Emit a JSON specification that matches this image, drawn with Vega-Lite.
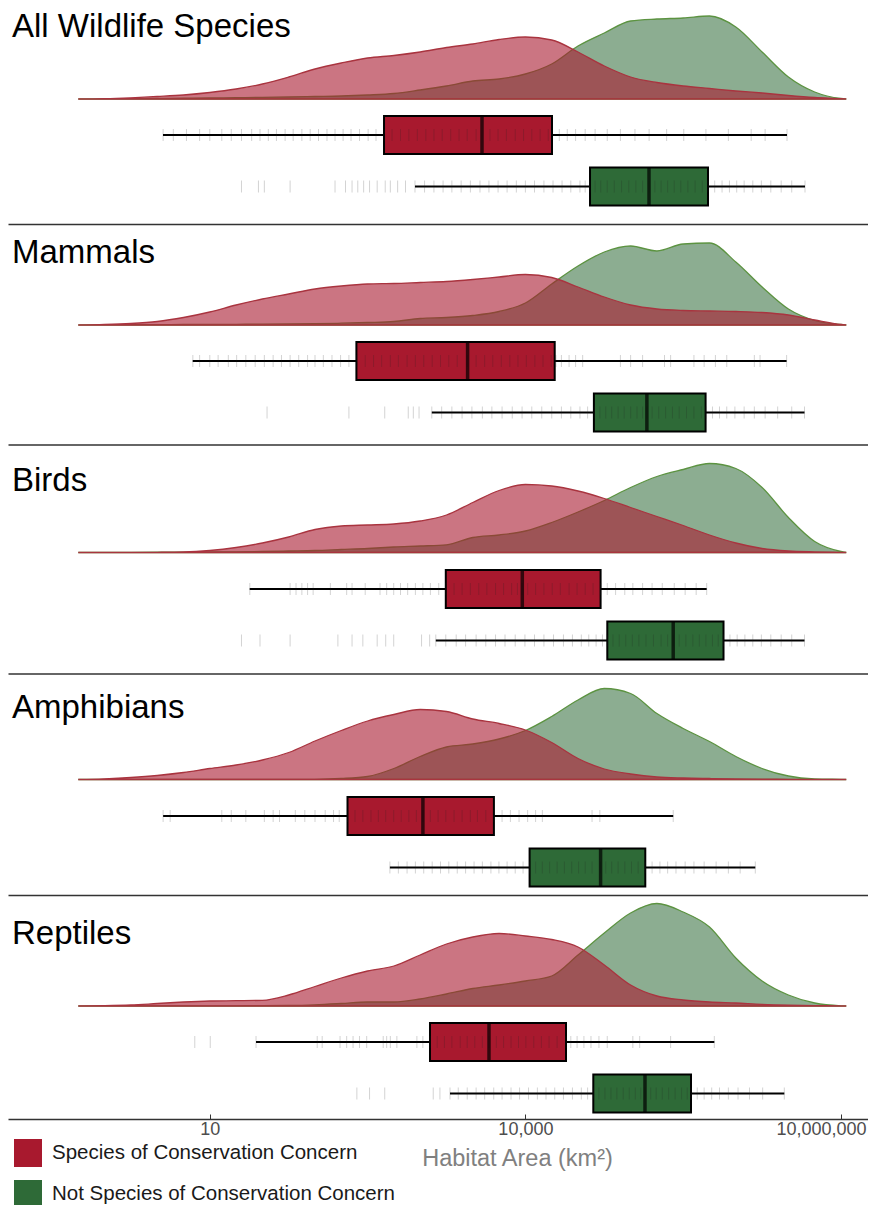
{
  "$schema": "https://vega.github.io/schema/vega-lite/v6.json",
  "padding": {"left": 8, "top": 0, "right": 0, "bottom": 0},
  "autosize": {"type": "pad"},
  "bounds": "flush",
  "spacing": 0,
  "background": "white",
  "config": {
    "font": "Liberation Sans",
    "view": {"stroke": null},
    "axis": {"grid": false},
    "legend": {"orient": "none", "legendX": 6, "legendY": 1139, "direction": "vertical", "symbolType": "square", "symbolSize": 784, "symbolStrokeWidth": 0, "symbolOpacity": 1, "labelFontSize": 20.5, "labelColor": "#1a1a1a", "labelOffset": 10, "rowPadding": 13, "padding": 0, "labelLimit": 500},
    "title": {"fontSize": 33, "fontWeight": "normal", "color": "#000000", "anchor": "start", "frame": "group", "baseline": "alphabetic", "dx": 4}
  },
  "datasets": {
    "stats": [
      {"taxon":"All","status":"SCC","lower":3.59,"q1":453,"median":3868,"q3":17900,"upper":3067000},
      {"taxon":"All","status":"Not SCC","lower":892,"q1":41130,"median":149600,"q3":544000,"upper":4547000},
      {"taxon":"Mammals","status":"SCC","lower":6.88,"q1":247.5,"median":2822,"q3":18990,"upper":3040000},
      {"taxon":"Mammals","status":"Not SCC","lower":1289,"q1":44780,"median":142800,"q3":516200,"upper":4498000},
      {"taxon":"Birds","status":"SCC","lower":23.95,"q1":1751,"median":9343,"q3":51850,"upper":528800},
      {"taxon":"Birds","status":"Not SCC","lower":1407,"q1":60050,"median":254100,"q3":764100,"upper":4498000},
      {"taxon":"Amphibians","status":"SCC","lower":3.6,"q1":203.7,"median":1061,"q3":5019,"upper":254100},
      {"taxon":"Amphibians","status":"Not SCC","lower":515.2,"q1":10960,"median":51850,"q3":137900,"upper":1532000},
      {"taxon":"Reptiles","status":"SCC","lower":27.5,"q1":1239,"median":4508,"q3":24320,"upper":624800},
      {"taxon":"Reptiles","status":"Not SCC","lower":1920,"q1":44200,"median":137000,"q3":375100,"upper":2891000}
    ],
    "density_all": [
      {"status":"SCC","area":0.562,"density":0},{"status":"SCC","area":1,"density":0.003},{"status":"SCC","area":1.778,"density":0.012},{"status":"SCC","area":3.162,"density":0.025},{"status":"SCC","area":5.623,"density":0.04},{"status":"SCC","area":10,"density":0.065},{"status":"SCC","area":17.78,"density":0.1},{"status":"SCC","area":31.62,"density":0.15},{"status":"SCC","area":56.23,"density":0.22},{"status":"SCC","area":100,"density":0.3},{"status":"SCC","area":177.8,"density":0.36},{"status":"SCC","area":316.2,"density":0.41},{"status":"SCC","area":562.3,"density":0.435},{"status":"SCC","area":1000,"density":0.47},{"status":"SCC","area":1778,"density":0.515},{"status":"SCC","area":3162,"density":0.55},{"status":"SCC","area":5623,"density":0.595},{"status":"SCC","area":10000,"density":0.62},{"status":"SCC","area":17783,"density":0.59},{"status":"SCC","area":31623,"density":0.47},{"status":"SCC","area":56234,"density":0.33},{"status":"SCC","area":100000,"density":0.22},{"status":"SCC","area":177828,"density":0.165},{"status":"SCC","area":316228,"density":0.13},{"status":"SCC","area":562341,"density":0.105},{"status":"SCC","area":1000000,"density":0.08},{"status":"SCC","area":1778279,"density":0.06},{"status":"SCC","area":3162278,"density":0.035},{"status":"SCC","area":5623413,"density":0.015},{"status":"SCC","area":10000000,"density":0.003},{"status":"SCC","area":11220185,"density":0},
      {"status":"Not SCC","area":0.562,"density":0},{"status":"Not SCC","area":1,"density":0.002},{"status":"Not SCC","area":1.778,"density":0.004},{"status":"Not SCC","area":3.162,"density":0.006},{"status":"Not SCC","area":5.623,"density":0.008},{"status":"Not SCC","area":10,"density":0.01},{"status":"Not SCC","area":17.78,"density":0.013},{"status":"Not SCC","area":31.62,"density":0.016},{"status":"Not SCC","area":56.23,"density":0.02},{"status":"Not SCC","area":100,"density":0.025},{"status":"Not SCC","area":177.8,"density":0.03},{"status":"Not SCC","area":316.2,"density":0.04},{"status":"Not SCC","area":562.3,"density":0.055},{"status":"Not SCC","area":1000,"density":0.09},{"status":"Not SCC","area":1778,"density":0.13},{"status":"Not SCC","area":3162,"density":0.18},{"status":"Not SCC","area":5623,"density":0.2},{"status":"Not SCC","area":10000,"density":0.25},{"status":"Not SCC","area":17783,"density":0.35},{"status":"Not SCC","area":31623,"density":0.53},{"status":"Not SCC","area":56234,"density":0.66},{"status":"Not SCC","area":100000,"density":0.78},{"status":"Not SCC","area":177828,"density":0.8},{"status":"Not SCC","area":316228,"density":0.81},{"status":"Not SCC","area":562341,"density":0.83},{"status":"Not SCC","area":1000000,"density":0.72},{"status":"Not SCC","area":1778279,"density":0.47},{"status":"Not SCC","area":3162278,"density":0.22},{"status":"Not SCC","area":5623413,"density":0.07},{"status":"Not SCC","area":10000000,"density":0.005},{"status":"Not SCC","area":11220185,"density":0}
    ],
    "density_mammals": [
      {"status":"SCC","area":0.562,"density":0},{"status":"SCC","area":1,"density":0.005},{"status":"SCC","area":1.778,"density":0.015},{"status":"SCC","area":3.162,"density":0.035},{"status":"SCC","area":5.623,"density":0.075},{"status":"SCC","area":10,"density":0.13},{"status":"SCC","area":17.78,"density":0.2},{"status":"SCC","area":31.62,"density":0.26},{"status":"SCC","area":56.23,"density":0.31},{"status":"SCC","area":100,"density":0.36},{"status":"SCC","area":177.8,"density":0.39},{"status":"SCC","area":316.2,"density":0.41},{"status":"SCC","area":562.3,"density":0.415},{"status":"SCC","area":1000,"density":0.425},{"status":"SCC","area":1778,"density":0.435},{"status":"SCC","area":3162,"density":0.455},{"status":"SCC","area":5623,"density":0.48},{"status":"SCC","area":10000,"density":0.505},{"status":"SCC","area":17783,"density":0.475},{"status":"SCC","area":31623,"density":0.38},{"status":"SCC","area":56234,"density":0.28},{"status":"SCC","area":100000,"density":0.2},{"status":"SCC","area":177828,"density":0.16},{"status":"SCC","area":316228,"density":0.145},{"status":"SCC","area":562341,"density":0.14},{"status":"SCC","area":1000000,"density":0.135},{"status":"SCC","area":1778279,"density":0.125},{"status":"SCC","area":3162278,"density":0.1},{"status":"SCC","area":5623413,"density":0.05},{"status":"SCC","area":10000000,"density":0.005},{"status":"SCC","area":11220185,"density":0},
      {"status":"Not SCC","area":0.562,"density":0},{"status":"Not SCC","area":1,"density":0.002},{"status":"Not SCC","area":1.778,"density":0.003},{"status":"Not SCC","area":3.162,"density":0.004},{"status":"Not SCC","area":5.623,"density":0.005},{"status":"Not SCC","area":10,"density":0.006},{"status":"Not SCC","area":17.78,"density":0.007},{"status":"Not SCC","area":31.62,"density":0.008},{"status":"Not SCC","area":56.23,"density":0.01},{"status":"Not SCC","area":100,"density":0.013},{"status":"Not SCC","area":177.8,"density":0.018},{"status":"Not SCC","area":316.2,"density":0.025},{"status":"Not SCC","area":562.3,"density":0.035},{"status":"Not SCC","area":1000,"density":0.065},{"status":"Not SCC","area":1778,"density":0.075},{"status":"Not SCC","area":3162,"density":0.095},{"status":"Not SCC","area":5623,"density":0.135},{"status":"Not SCC","area":10000,"density":0.22},{"status":"Not SCC","area":17783,"density":0.41},{"status":"Not SCC","area":31623,"density":0.59},{"status":"Not SCC","area":56234,"density":0.73},{"status":"Not SCC","area":100000,"density":0.79},{"status":"Not SCC","area":177828,"density":0.74},{"status":"Not SCC","area":316228,"density":0.81},{"status":"Not SCC","area":562341,"density":0.82},{"status":"Not SCC","area":1000000,"density":0.63},{"status":"Not SCC","area":1778279,"density":0.38},{"status":"Not SCC","area":3162278,"density":0.16},{"status":"Not SCC","area":5623413,"density":0.045},{"status":"Not SCC","area":10000000,"density":0.005},{"status":"Not SCC","area":11220185,"density":0}
    ],
    "density_birds": [
      {"status":"SCC","area":0.562,"density":0},{"status":"SCC","area":1,"density":0},{"status":"SCC","area":1.778,"density":0.001},{"status":"SCC","area":3.162,"density":0.002},{"status":"SCC","area":5.623,"density":0.005},{"status":"SCC","area":10,"density":0.02},{"status":"SCC","area":17.78,"density":0.05},{"status":"SCC","area":31.62,"density":0.095},{"status":"SCC","area":56.23,"density":0.155},{"status":"SCC","area":100,"density":0.23},{"status":"SCC","area":177.8,"density":0.265},{"status":"SCC","area":316.2,"density":0.275},{"status":"SCC","area":562.3,"density":0.285},{"status":"SCC","area":1000,"density":0.315},{"status":"SCC","area":1778,"density":0.375},{"status":"SCC","area":3162,"density":0.5},{"status":"SCC","area":5623,"density":0.62},{"status":"SCC","area":10000,"density":0.68},{"status":"SCC","area":17783,"density":0.665},{"status":"SCC","area":31623,"density":0.615},{"status":"SCC","area":56234,"density":0.54},{"status":"SCC","area":100000,"density":0.45},{"status":"SCC","area":177828,"density":0.36},{"status":"SCC","area":316228,"density":0.27},{"status":"SCC","area":562341,"density":0.175},{"status":"SCC","area":1000000,"density":0.095},{"status":"SCC","area":1778279,"density":0.04},{"status":"SCC","area":3162278,"density":0.015},{"status":"SCC","area":5623413,"density":0.006},{"status":"SCC","area":10000000,"density":0.001},{"status":"SCC","area":11220185,"density":0},
      {"status":"Not SCC","area":0.562,"density":0},{"status":"Not SCC","area":1,"density":0.001},{"status":"Not SCC","area":1.778,"density":0.002},{"status":"Not SCC","area":3.162,"density":0.003},{"status":"Not SCC","area":5.623,"density":0.004},{"status":"Not SCC","area":10,"density":0.005},{"status":"Not SCC","area":17.78,"density":0.007},{"status":"Not SCC","area":31.62,"density":0.01},{"status":"Not SCC","area":56.23,"density":0.015},{"status":"Not SCC","area":100,"density":0.02},{"status":"Not SCC","area":177.8,"density":0.03},{"status":"Not SCC","area":316.2,"density":0.04},{"status":"Not SCC","area":562.3,"density":0.055},{"status":"Not SCC","area":1000,"density":0.065},{"status":"Not SCC","area":1778,"density":0.077},{"status":"Not SCC","area":3162,"density":0.15},{"status":"Not SCC","area":5623,"density":0.175},{"status":"Not SCC","area":10000,"density":0.215},{"status":"Not SCC","area":17783,"density":0.3},{"status":"Not SCC","area":31623,"density":0.405},{"status":"Not SCC","area":56234,"density":0.52},{"status":"Not SCC","area":100000,"density":0.65},{"status":"Not SCC","area":177828,"density":0.76},{"status":"Not SCC","area":316228,"density":0.83},{"status":"Not SCC","area":562341,"density":0.89},{"status":"Not SCC","area":1000000,"density":0.84},{"status":"Not SCC","area":1778279,"density":0.65},{"status":"Not SCC","area":3162278,"density":0.35},{"status":"Not SCC","area":5623413,"density":0.11},{"status":"Not SCC","area":10000000,"density":0.01},{"status":"Not SCC","area":11220185,"density":0}
    ],
    "density_amphibians": [
      {"status":"SCC","area":0.562,"density":0},{"status":"SCC","area":1,"density":0.007},{"status":"SCC","area":1.778,"density":0.02},{"status":"SCC","area":3.162,"density":0.04},{"status":"SCC","area":5.623,"density":0.07},{"status":"SCC","area":10,"density":0.11},{"status":"SCC","area":17.78,"density":0.145},{"status":"SCC","area":31.62,"density":0.195},{"status":"SCC","area":56.23,"density":0.27},{"status":"SCC","area":100,"density":0.385},{"status":"SCC","area":177.8,"density":0.49},{"status":"SCC","area":316.2,"density":0.585},{"status":"SCC","area":562.3,"density":0.65},{"status":"SCC","area":1000,"density":0.7},{"status":"SCC","area":1778,"density":0.68},{"status":"SCC","area":3162,"density":0.605},{"status":"SCC","area":5623,"density":0.56},{"status":"SCC","area":10000,"density":0.495},{"status":"SCC","area":17783,"density":0.37},{"status":"SCC","area":31623,"density":0.21},{"status":"SCC","area":56234,"density":0.105},{"status":"SCC","area":100000,"density":0.055},{"status":"SCC","area":177828,"density":0.025},{"status":"SCC","area":316228,"density":0.015},{"status":"SCC","area":562341,"density":0.01},{"status":"SCC","area":1000000,"density":0.006},{"status":"SCC","area":1778279,"density":0.004},{"status":"SCC","area":3162278,"density":0.002},{"status":"SCC","area":5623413,"density":0.001},{"status":"SCC","area":10000000,"density":0},{"status":"SCC","area":11220185,"density":0},
      {"status":"Not SCC","area":0.562,"density":0},{"status":"Not SCC","area":1,"density":0},{"status":"Not SCC","area":1.778,"density":0},{"status":"Not SCC","area":3.162,"density":0},{"status":"Not SCC","area":5.623,"density":0},{"status":"Not SCC","area":10,"density":0},{"status":"Not SCC","area":17.78,"density":0},{"status":"Not SCC","area":31.62,"density":0},{"status":"Not SCC","area":56.23,"density":0.001},{"status":"Not SCC","area":100,"density":0.002},{"status":"Not SCC","area":177.8,"density":0.01},{"status":"Not SCC","area":316.2,"density":0.03},{"status":"Not SCC","area":562.3,"density":0.11},{"status":"Not SCC","area":1000,"density":0.23},{"status":"Not SCC","area":1778,"density":0.325},{"status":"Not SCC","area":3162,"density":0.355},{"status":"Not SCC","area":5623,"density":0.405},{"status":"Not SCC","area":10000,"density":0.49},{"status":"Not SCC","area":17783,"density":0.63},{"status":"Not SCC","area":31623,"density":0.795},{"status":"Not SCC","area":56234,"density":0.91},{"status":"Not SCC","area":100000,"density":0.86},{"status":"Not SCC","area":177828,"density":0.66},{"status":"Not SCC","area":316228,"density":0.51},{"status":"Not SCC","area":562341,"density":0.38},{"status":"Not SCC","area":1000000,"density":0.23},{"status":"Not SCC","area":1778279,"density":0.11},{"status":"Not SCC","area":3162278,"density":0.035},{"status":"Not SCC","area":5623413,"density":0.006},{"status":"Not SCC","area":10000000,"density":0.001},{"status":"Not SCC","area":11220185,"density":0}
    ],
    "density_reptiles": [
      {"status":"SCC","area":0.562,"density":0},{"status":"SCC","area":1,"density":0.003},{"status":"SCC","area":1.778,"density":0.01},{"status":"SCC","area":3.162,"density":0.025},{"status":"SCC","area":5.623,"density":0.04},{"status":"SCC","area":10,"density":0.05},{"status":"SCC","area":17.78,"density":0.053},{"status":"SCC","area":31.62,"density":0.057},{"status":"SCC","area":56.23,"density":0.11},{"status":"SCC","area":100,"density":0.195},{"status":"SCC","area":177.8,"density":0.28},{"status":"SCC","area":316.2,"density":0.35},{"status":"SCC","area":562.3,"density":0.4},{"status":"SCC","area":1000,"density":0.51},{"status":"SCC","area":1778,"density":0.62},{"status":"SCC","area":3162,"density":0.69},{"status":"SCC","area":5623,"density":0.725},{"status":"SCC","area":10000,"density":0.7},{"status":"SCC","area":17783,"density":0.665},{"status":"SCC","area":31623,"density":0.59},{"status":"SCC","area":56234,"density":0.41},{"status":"SCC","area":100000,"density":0.21},{"status":"SCC","area":177828,"density":0.1},{"status":"SCC","area":316228,"density":0.06},{"status":"SCC","area":562341,"density":0.04},{"status":"SCC","area":1000000,"density":0.03},{"status":"SCC","area":1778279,"density":0.017},{"status":"SCC","area":3162278,"density":0.009},{"status":"SCC","area":5623413,"density":0.004},{"status":"SCC","area":10000000,"density":0.001},{"status":"SCC","area":11220185,"density":0},
      {"status":"Not SCC","area":0.562,"density":0},{"status":"Not SCC","area":1,"density":0},{"status":"Not SCC","area":1.778,"density":0},{"status":"Not SCC","area":3.162,"density":0},{"status":"Not SCC","area":5.623,"density":0},{"status":"Not SCC","area":10,"density":0.001},{"status":"Not SCC","area":17.78,"density":0.002},{"status":"Not SCC","area":31.62,"density":0.003},{"status":"Not SCC","area":56.23,"density":0.005},{"status":"Not SCC","area":100,"density":0.012},{"status":"Not SCC","area":177.8,"density":0.025},{"status":"Not SCC","area":316.2,"density":0.04},{"status":"Not SCC","area":562.3,"density":0.04},{"status":"Not SCC","area":1000,"density":0.07},{"status":"Not SCC","area":1778,"density":0.12},{"status":"Not SCC","area":3162,"density":0.175},{"status":"Not SCC","area":5623,"density":0.21},{"status":"Not SCC","area":10000,"density":0.25},{"status":"Not SCC","area":17783,"density":0.3},{"status":"Not SCC","area":31623,"density":0.51},{"status":"Not SCC","area":56234,"density":0.73},{"status":"Not SCC","area":100000,"density":0.93},{"status":"Not SCC","area":177828,"density":1.025},{"status":"Not SCC","area":316228,"density":0.94},{"status":"Not SCC","area":562341,"density":0.79},{"status":"Not SCC","area":1000000,"density":0.48},{"status":"Not SCC","area":1778279,"density":0.25},{"status":"Not SCC","area":3162278,"density":0.11},{"status":"Not SCC","area":5623413,"density":0.03},{"status":"Not SCC","area":10000000,"density":0.002},{"status":"Not SCC","area":11220185,"density":0}
    ],
    "rug_all": [
      {"status":"SCC","area":3.6},{"status":"SCC","area":4.5},{"status":"SCC","area":6},{"status":"SCC","area":8},{"status":"SCC","area":10},{"status":"SCC","area":13},{"status":"SCC","area":16},{"status":"SCC","area":20},{"status":"SCC","area":25},{"status":"SCC","area":30},{"status":"SCC","area":36},{"status":"SCC","area":43},{"status":"SCC","area":52},{"status":"SCC","area":62},{"status":"SCC","area":75},{"status":"SCC","area":90},{"status":"SCC","area":108},{"status":"SCC","area":130},{"status":"SCC","area":155},{"status":"SCC","area":185},{"status":"SCC","area":220},{"status":"SCC","area":265},{"status":"SCC","area":320},{"status":"SCC","area":380},{"status":"SCC","area":453},{"status":"SCC","area":540},{"status":"SCC","area":650},{"status":"SCC","area":780},{"status":"SCC","area":940},{"status":"SCC","area":1130},{"status":"SCC","area":1350},{"status":"SCC","area":1620},{"status":"SCC","area":1950},{"status":"SCC","area":2340},{"status":"SCC","area":2800},{"status":"SCC","area":3400},{"status":"SCC","area":4600},{"status":"SCC","area":5500},{"status":"SCC","area":6600},{"status":"SCC","area":8000},{"status":"SCC","area":9600},{"status":"SCC","area":11500},{"status":"SCC","area":13800},{"status":"SCC","area":16500},{"status":"SCC","area":21000},{"status":"SCC","area":25000},{"status":"SCC","area":30000},{"status":"SCC","area":37000},{"status":"SCC","area":46000},{"status":"SCC","area":60000},{"status":"SCC","area":80000},{"status":"SCC","area":110000},{"status":"SCC","area":150000},{"status":"SCC","area":220000},{"status":"SCC","area":320000},{"status":"SCC","area":520000},{"status":"SCC","area":850000},{"status":"SCC","area":1400000},{"status":"SCC","area":1900000},{"status":"SCC","area":3067000},
      {"status":"Not SCC","area":20},{"status":"Not SCC","area":29},{"status":"Not SCC","area":33},{"status":"Not SCC","area":58},{"status":"Not SCC","area":155},{"status":"Not SCC","area":195},{"status":"Not SCC","area":225},{"status":"Not SCC","area":255},{"status":"Not SCC","area":290},{"status":"Not SCC","area":330},{"status":"Not SCC","area":390},{"status":"Not SCC","area":465},{"status":"Not SCC","area":520},{"status":"Not SCC","area":610},{"status":"Not SCC","area":725},{"status":"Not SCC","area":892},{"status":"Not SCC","area":1100},{"status":"Not SCC","area":1350},{"status":"Not SCC","area":1650},{"status":"Not SCC","area":2000},{"status":"Not SCC","area":2450},{"status":"Not SCC","area":3000},{"status":"Not SCC","area":3700},{"status":"Not SCC","area":4500},{"status":"Not SCC","area":5500},{"status":"Not SCC","area":6700},{"status":"Not SCC","area":8200},{"status":"Not SCC","area":10000},{"status":"Not SCC","area":12200},{"status":"Not SCC","area":15000},{"status":"Not SCC","area":18300},{"status":"Not SCC","area":22300},{"status":"Not SCC","area":27000},{"status":"Not SCC","area":33000},{"status":"Not SCC","area":37000},{"status":"Not SCC","area":41000},{"status":"Not SCC","area":46000},{"status":"Not SCC","area":52000},{"status":"Not SCC","area":60000},{"status":"Not SCC","area":70000},{"status":"Not SCC","area":82000},{"status":"Not SCC","area":96000},{"status":"Not SCC","area":112000},{"status":"Not SCC","area":130000},{"status":"Not SCC","area":150000},{"status":"Not SCC","area":170000},{"status":"Not SCC","area":195000},{"status":"Not SCC","area":225000},{"status":"Not SCC","area":260000},{"status":"Not SCC","area":300000},{"status":"Not SCC","area":350000},{"status":"Not SCC","area":410000},{"status":"Not SCC","area":480000},{"status":"Not SCC","area":544000},{"status":"Not SCC","area":630000},{"status":"Not SCC","area":740000},{"status":"Not SCC","area":870000},{"status":"Not SCC","area":1020000},{"status":"Not SCC","area":1200000},{"status":"Not SCC","area":1450000},{"status":"Not SCC","area":1750000},{"status":"Not SCC","area":2150000},{"status":"Not SCC","area":2700000},{"status":"Not SCC","area":3400000},{"status":"Not SCC","area":4547000}
    ],
    "rug_mammals": [
      {"status":"SCC","area":6.9},{"status":"SCC","area":8},{"status":"SCC","area":10},{"status":"SCC","area":12},{"status":"SCC","area":15},{"status":"SCC","area":18},{"status":"SCC","area":22},{"status":"SCC","area":27},{"status":"SCC","area":33},{"status":"SCC","area":40},{"status":"SCC","area":48},{"status":"SCC","area":58},{"status":"SCC","area":70},{"status":"SCC","area":85},{"status":"SCC","area":100},{"status":"SCC","area":120},{"status":"SCC","area":145},{"status":"SCC","area":175},{"status":"SCC","area":210},{"status":"SCC","area":250},{"status":"SCC","area":300},{"status":"SCC","area":360},{"status":"SCC","area":430},{"status":"SCC","area":520},{"status":"SCC","area":620},{"status":"SCC","area":750},{"status":"SCC","area":900},{"status":"SCC","area":1080},{"status":"SCC","area":1300},{"status":"SCC","area":1560},{"status":"SCC","area":1870},{"status":"SCC","area":2250},{"status":"SCC","area":2800},{"status":"SCC","area":3400},{"status":"SCC","area":4100},{"status":"SCC","area":4900},{"status":"SCC","area":5900},{"status":"SCC","area":7100},{"status":"SCC","area":8500},{"status":"SCC","area":10200},{"status":"SCC","area":12300},{"status":"SCC","area":14700},{"status":"SCC","area":17600},{"status":"SCC","area":19500},{"status":"SCC","area":22000},{"status":"SCC","area":26000},{"status":"SCC","area":30000},{"status":"SCC","area":35000},{"status":"SCC","area":80000},{"status":"SCC","area":100000},{"status":"SCC","area":130000},{"status":"SCC","area":210000},{"status":"SCC","area":240000},{"status":"SCC","area":400000},{"status":"SCC","area":500000},{"status":"SCC","area":640000},{"status":"SCC","area":820000},{"status":"SCC","area":1500000},{"status":"SCC","area":1700000},{"status":"SCC","area":3040000},
      {"status":"Not SCC","area":35},{"status":"Not SCC","area":210},{"status":"Not SCC","area":460},{"status":"Not SCC","area":770},{"status":"Not SCC","area":860},{"status":"Not SCC","area":975},{"status":"Not SCC","area":1289},{"status":"Not SCC","area":1600},{"status":"Not SCC","area":2000},{"status":"Not SCC","area":2500},{"status":"Not SCC","area":3100},{"status":"Not SCC","area":3900},{"status":"Not SCC","area":4800},{"status":"Not SCC","area":6000},{"status":"Not SCC","area":7500},{"status":"Not SCC","area":9300},{"status":"Not SCC","area":11500},{"status":"Not SCC","area":14300},{"status":"Not SCC","area":17800},{"status":"Not SCC","area":22000},{"status":"Not SCC","area":27000},{"status":"Not SCC","area":33000},{"status":"Not SCC","area":39000},{"status":"Not SCC","area":45000},{"status":"Not SCC","area":51000},{"status":"Not SCC","area":58000},{"status":"Not SCC","area":66000},{"status":"Not SCC","area":76000},{"status":"Not SCC","area":87000},{"status":"Not SCC","area":100000},{"status":"Not SCC","area":115000},{"status":"Not SCC","area":130000},{"status":"Not SCC","area":143000},{"status":"Not SCC","area":160000},{"status":"Not SCC","area":185000},{"status":"Not SCC","area":215000},{"status":"Not SCC","area":250000},{"status":"Not SCC","area":290000},{"status":"Not SCC","area":340000},{"status":"Not SCC","area":400000},{"status":"Not SCC","area":470000},{"status":"Not SCC","area":520000},{"status":"Not SCC","area":600000},{"status":"Not SCC","area":700000},{"status":"Not SCC","area":820000},{"status":"Not SCC","area":980000},{"status":"Not SCC","area":1200000},{"status":"Not SCC","area":1500000},{"status":"Not SCC","area":1900000},{"status":"Not SCC","area":2500000},{"status":"Not SCC","area":3400000},{"status":"Not SCC","area":4498000}
    ],
    "rug_birds": [
      {"status":"SCC","area":24},{"status":"SCC","area":58},{"status":"SCC","area":66},{"status":"SCC","area":75},{"status":"SCC","area":85},{"status":"SCC","area":96},{"status":"SCC","area":140},{"status":"SCC","area":200},{"status":"SCC","area":225},{"status":"SCC","area":300},{"status":"SCC","area":415},{"status":"SCC","area":480},{"status":"SCC","area":560},{"status":"SCC","area":650},{"status":"SCC","area":760},{"status":"SCC","area":900},{"status":"SCC","area":1060},{"status":"SCC","area":1250},{"status":"SCC","area":1500},{"status":"SCC","area":1750},{"status":"SCC","area":2100},{"status":"SCC","area":2500},{"status":"SCC","area":3000},{"status":"SCC","area":3600},{"status":"SCC","area":4300},{"status":"SCC","area":5200},{"status":"SCC","area":6200},{"status":"SCC","area":7400},{"status":"SCC","area":8400},{"status":"SCC","area":9300},{"status":"SCC","area":10500},{"status":"SCC","area":12500},{"status":"SCC","area":15000},{"status":"SCC","area":18000},{"status":"SCC","area":21500},{"status":"SCC","area":26000},{"status":"SCC","area":31000},{"status":"SCC","area":37000},{"status":"SCC","area":44000},{"status":"SCC","area":52000},{"status":"SCC","area":60000},{"status":"SCC","area":72000},{"status":"SCC","area":88000},{"status":"SCC","area":105000},{"status":"SCC","area":130000},{"status":"SCC","area":160000},{"status":"SCC","area":200000},{"status":"SCC","area":260000},{"status":"SCC","area":330000},{"status":"SCC","area":420000},{"status":"SCC","area":528800},
      {"status":"Not SCC","area":20},{"status":"Not SCC","area":30},{"status":"Not SCC","area":58},{"status":"Not SCC","area":165},{"status":"Not SCC","area":225},{"status":"Not SCC","area":285},{"status":"Not SCC","area":390},{"status":"Not SCC","area":470},{"status":"Not SCC","area":560},{"status":"Not SCC","area":1030},{"status":"Not SCC","area":1230},{"status":"Not SCC","area":1407},{"status":"Not SCC","area":1750},{"status":"Not SCC","area":2200},{"status":"Not SCC","area":2700},{"status":"Not SCC","area":3400},{"status":"Not SCC","area":4200},{"status":"Not SCC","area":5200},{"status":"Not SCC","area":6400},{"status":"Not SCC","area":8000},{"status":"Not SCC","area":9900},{"status":"Not SCC","area":12200},{"status":"Not SCC","area":15000},{"status":"Not SCC","area":18500},{"status":"Not SCC","area":23000},{"status":"Not SCC","area":28000},{"status":"Not SCC","area":34000},{"status":"Not SCC","area":40000},{"status":"Not SCC","area":47000},{"status":"Not SCC","area":54000},{"status":"Not SCC","area":60000},{"status":"Not SCC","area":68000},{"status":"Not SCC","area":78000},{"status":"Not SCC","area":90000},{"status":"Not SCC","area":104000},{"status":"Not SCC","area":120000},{"status":"Not SCC","area":140000},{"status":"Not SCC","area":165000},{"status":"Not SCC","area":195000},{"status":"Not SCC","area":225000},{"status":"Not SCC","area":254000},{"status":"Not SCC","area":290000},{"status":"Not SCC","area":335000},{"status":"Not SCC","area":390000},{"status":"Not SCC","area":450000},{"status":"Not SCC","area":520000},{"status":"Not SCC","area":600000},{"status":"Not SCC","area":680000},{"status":"Not SCC","area":764000},{"status":"Not SCC","area":880000},{"status":"Not SCC","area":1030000},{"status":"Not SCC","area":1220000},{"status":"Not SCC","area":1450000},{"status":"Not SCC","area":1750000},{"status":"Not SCC","area":2150000},{"status":"Not SCC","area":2700000},{"status":"Not SCC","area":3400000},{"status":"Not SCC","area":4498000}
    ],
    "rug_amphibians": [
      {"status":"SCC","area":3.6},{"status":"SCC","area":4.2},{"status":"SCC","area":13},{"status":"SCC","area":16},{"status":"SCC","area":22},{"status":"SCC","area":33},{"status":"SCC","area":40},{"status":"SCC","area":46},{"status":"SCC","area":65},{"status":"SCC","area":80},{"status":"SCC","area":100},{"status":"SCC","area":125},{"status":"SCC","area":150},{"status":"SCC","area":170},{"status":"SCC","area":204},{"status":"SCC","area":240},{"status":"SCC","area":285},{"status":"SCC","area":340},{"status":"SCC","area":400},{"status":"SCC","area":470},{"status":"SCC","area":560},{"status":"SCC","area":660},{"status":"SCC","area":780},{"status":"SCC","area":920},{"status":"SCC","area":1061},{"status":"SCC","area":1250},{"status":"SCC","area":1480},{"status":"SCC","area":1750},{"status":"SCC","area":2100},{"status":"SCC","area":2500},{"status":"SCC","area":3000},{"status":"SCC","area":3500},{"status":"SCC","area":4200},{"status":"SCC","area":5019},{"status":"SCC","area":6000},{"status":"SCC","area":7200},{"status":"SCC","area":8700},{"status":"SCC","area":10500},{"status":"SCC","area":12500},{"status":"SCC","area":14500},{"status":"SCC","area":43000},{"status":"SCC","area":51000},{"status":"SCC","area":254100},
      {"status":"Not SCC","area":515},{"status":"Not SCC","area":620},{"status":"Not SCC","area":750},{"status":"Not SCC","area":900},{"status":"Not SCC","area":1080},{"status":"Not SCC","area":1300},{"status":"Not SCC","area":1560},{"status":"Not SCC","area":1870},{"status":"Not SCC","area":2250},{"status":"Not SCC","area":2700},{"status":"Not SCC","area":3250},{"status":"Not SCC","area":3900},{"status":"Not SCC","area":4700},{"status":"Not SCC","area":5600},{"status":"Not SCC","area":6700},{"status":"Not SCC","area":8000},{"status":"Not SCC","area":9500},{"status":"Not SCC","area":10960},{"status":"Not SCC","area":12500},{"status":"Not SCC","area":14500},{"status":"Not SCC","area":17000},{"status":"Not SCC","area":20000},{"status":"Not SCC","area":23500},{"status":"Not SCC","area":27500},{"status":"Not SCC","area":32000},{"status":"Not SCC","area":37000},{"status":"Not SCC","area":43000},{"status":"Not SCC","area":51850},{"status":"Not SCC","area":58000},{"status":"Not SCC","area":66000},{"status":"Not SCC","area":76000},{"status":"Not SCC","area":88000},{"status":"Not SCC","area":102000},{"status":"Not SCC","area":118000},{"status":"Not SCC","area":137900},{"status":"Not SCC","area":160000},{"status":"Not SCC","area":190000},{"status":"Not SCC","area":225000},{"status":"Not SCC","area":270000},{"status":"Not SCC","area":330000},{"status":"Not SCC","area":400000},{"status":"Not SCC","area":500000},{"status":"Not SCC","area":650000},{"status":"Not SCC","area":850000},{"status":"Not SCC","area":1100000},{"status":"Not SCC","area":1532000}
    ],
    "rug_reptiles": [
      {"status":"SCC","area":7.2},{"status":"SCC","area":10.1},{"status":"SCC","area":27.5},{"status":"SCC","area":105},{"status":"SCC","area":117},{"status":"SCC","area":173},{"status":"SCC","area":200},{"status":"SCC","area":230},{"status":"SCC","area":265},{"status":"SCC","area":310},{"status":"SCC","area":445},{"status":"SCC","area":480},{"status":"SCC","area":520},{"status":"SCC","area":600},{"status":"SCC","area":930},{"status":"SCC","area":1060},{"status":"SCC","area":1239},{"status":"SCC","area":1450},{"status":"SCC","area":1700},{"status":"SCC","area":2000},{"status":"SCC","area":2400},{"status":"SCC","area":2800},{"status":"SCC","area":3300},{"status":"SCC","area":3900},{"status":"SCC","area":4500},{"status":"SCC","area":5300},{"status":"SCC","area":6200},{"status":"SCC","area":7300},{"status":"SCC","area":8600},{"status":"SCC","area":10100},{"status":"SCC","area":12000},{"status":"SCC","area":14200},{"status":"SCC","area":16800},{"status":"SCC","area":20000},{"status":"SCC","area":24320},{"status":"SCC","area":27000},{"status":"SCC","area":31000},{"status":"SCC","area":36000},{"status":"SCC","area":42000},{"status":"SCC","area":50000},{"status":"SCC","area":60000},{"status":"SCC","area":105000},{"status":"SCC","area":122000},{"status":"SCC","area":240000},{"status":"SCC","area":624800},
      {"status":"Not SCC","area":250},{"status":"Not SCC","area":330},{"status":"Not SCC","area":460},{"status":"Not SCC","area":1330},{"status":"Not SCC","area":1540},{"status":"Not SCC","area":1920},{"status":"Not SCC","area":2300},{"status":"Not SCC","area":2800},{"status":"Not SCC","area":3400},{"status":"Not SCC","area":4100},{"status":"Not SCC","area":5000},{"status":"Not SCC","area":6000},{"status":"Not SCC","area":7300},{"status":"Not SCC","area":8800},{"status":"Not SCC","area":10700},{"status":"Not SCC","area":13000},{"status":"Not SCC","area":15700},{"status":"Not SCC","area":19000},{"status":"Not SCC","area":23000},{"status":"Not SCC","area":28000},{"status":"Not SCC","area":34000},{"status":"Not SCC","area":39000},{"status":"Not SCC","area":44200},{"status":"Not SCC","area":50000},{"status":"Not SCC","area":57000},{"status":"Not SCC","area":65000},{"status":"Not SCC","area":74000},{"status":"Not SCC","area":85000},{"status":"Not SCC","area":97000},{"status":"Not SCC","area":111000},{"status":"Not SCC","area":125000},{"status":"Not SCC","area":137000},{"status":"Not SCC","area":155000},{"status":"Not SCC","area":175000},{"status":"Not SCC","area":200000},{"status":"Not SCC","area":230000},{"status":"Not SCC","area":265000},{"status":"Not SCC","area":305000},{"status":"Not SCC","area":345000},{"status":"Not SCC","area":375000},{"status":"Not SCC","area":430000},{"status":"Not SCC","area":500000},{"status":"Not SCC","area":590000},{"status":"Not SCC","area":700000},{"status":"Not SCC","area":850000},{"status":"Not SCC","area":1050000},{"status":"Not SCC","area":1350000},{"status":"Not SCC","area":1800000},{"status":"Not SCC","area":2891000}
    ]
  },
  "vconcat": [
    {
      "width": 860, "height": 99,
      "title": {"text": "All Wildlife Species", "offset": -44},
      "data": {"name": "density_all"},
      "encoding": {
        "x": {"field": "area", "type": "quantitative", "scale": {"type": "log", "domain": [0.12072, 18055000], "nice": false}, "axis": null},
        "y": {"field": "density", "type": "quantitative", "scale": {"domain": [0, 0.99], "nice": false}, "axis": null},
        "fill": {"field": "status", "type": "nominal", "scale": {"domain": ["SCC", "Not SCC"], "range": ["#A8192E", "#2E6A37"]}, "legend": {"title": null, "labelExpr": "datum.value == 'SCC' ? 'Species of Conservation Concern' : 'Not Species of Conservation Concern'"}},
        "stroke": {"field": "status", "type": "nominal", "scale": {"domain": ["SCC", "Not SCC"], "range": ["#A9343F", "#5C9341"]}, "legend": null}
      },
      "layer": [
        {"transform": [{"filter": "datum.status == 'Not SCC'"}], "mark": {"type": "area", "interpolate": "monotone", "fillOpacity": 0.55, "strokeWidth": 1.3}, "encoding": {}},
        {"transform": [{"filter": "datum.status == 'SCC'"}], "mark": {"type": "area", "interpolate": "monotone", "fillOpacity": 0.6, "strokeWidth": 1.3}, "encoding": {}}
      ]
    },
    {
      "width": 860, "height": 125,
      "layer": [
        {"data": {"name": "stats"}, "transform": [{"filter": "datum.taxon == 'All'"}], "mark": {"type": "rule", "color": "#000000", "strokeWidth": 2},
         "encoding": {"x": {"field": "lower", "type": "quantitative", "scale": {"type": "log", "domain": [0.12072, 18055000], "nice": false}, "axis": {"domain": true, "ticks": false, "labels": false, "title": null, "domainColor": "#333333", "domainWidth": 1.5}}, "x2": {"field": "upper"},
                      "y": {"field": "status", "type": "nominal", "scale": {"type": "point", "domain": ["SCC", "Not SCC"], "range": [36, 87.5], "padding": 0}, "axis": null}}},
        {"data": {"name": "stats"}, "transform": [{"filter": "datum.taxon == 'All'"}], "mark": {"type": "bar", "size": 38, "stroke": "#000000", "strokeWidth": 2},
         "encoding": {"x": {"field": "q1", "type": "quantitative", "axis": {"domain": true, "ticks": false, "labels": false, "title": null, "domainColor": "#333333", "domainWidth": 1.5}}, "x2": {"field": "q3"},
                      "y": {"field": "status", "type": "nominal", "axis": null},
                      "fill": {"field": "status", "type": "nominal", "scale": {"domain": ["SCC", "Not SCC"], "range": ["#A8192E", "#2E6A37"]}, "legend": {"title": null, "labelExpr": "datum.value == 'SCC' ? 'Species of Conservation Concern' : 'Not Species of Conservation Concern'"}}}},
        {"data": {"name": "rug_all"}, "mark": {"type": "tick", "orient": "vertical", "size": 12, "thickness": 1, "color": "#222222", "opacity": 0.2},
         "encoding": {"x": {"field": "area", "type": "quantitative", "axis": {"domain": true, "ticks": false, "labels": false, "title": null, "domainColor": "#333333", "domainWidth": 1.5}}, "y": {"field": "status", "type": "nominal", "axis": null}}},
        {"data": {"name": "stats"}, "transform": [{"filter": "datum.taxon == 'All'"}], "mark": {"type": "tick", "orient": "vertical", "size": 38, "thickness": 3.5, "color": "#000000"},
         "encoding": {"x": {"field": "median", "type": "quantitative", "axis": {"domain": true, "ticks": false, "labels": false, "title": null, "domainColor": "#333333", "domainWidth": 1.5}}, "y": {"field": "status", "type": "nominal", "axis": null}}}
      ]
    },
    {
      "width": 860, "height": 101,
      "title": {"text": "Mammals", "offset": -46},
      "data": {"name": "density_mammals"},
      "encoding": {
        "x": {"field": "area", "type": "quantitative", "scale": {"type": "log", "domain": [0.12072, 18055000], "nice": false}, "axis": null},
        "y": {"field": "density", "type": "quantitative", "scale": {"domain": [0, 1.01], "nice": false}, "axis": null},
        "fill": {"field": "status", "type": "nominal", "scale": {"domain": ["SCC", "Not SCC"], "range": ["#A8192E", "#2E6A37"]}, "legend": {"title": null, "labelExpr": "datum.value == 'SCC' ? 'Species of Conservation Concern' : 'Not Species of Conservation Concern'"}},
        "stroke": {"field": "status", "type": "nominal", "scale": {"domain": ["SCC", "Not SCC"], "range": ["#A9343F", "#5C9341"]}, "legend": null}
      },
      "layer": [
        {"transform": [{"filter": "datum.status == 'Not SCC'"}], "mark": {"type": "area", "interpolate": "monotone", "fillOpacity": 0.55, "strokeWidth": 1.3}, "encoding": {}},
        {"transform": [{"filter": "datum.status == 'SCC'"}], "mark": {"type": "area", "interpolate": "monotone", "fillOpacity": 0.6, "strokeWidth": 1.3}, "encoding": {}}
      ]
    },
    {
      "width": 860, "height": 119.5,
      "layer": [
        {"data": {"name": "stats"}, "transform": [{"filter": "datum.taxon == 'Mammals'"}], "mark": {"type": "rule", "color": "#000000", "strokeWidth": 2},
         "encoding": {"x": {"field": "lower", "type": "quantitative", "scale": {"type": "log", "domain": [0.12072, 18055000], "nice": false}, "axis": {"domain": true, "ticks": false, "labels": false, "title": null, "domainColor": "#333333", "domainWidth": 1.5}}, "x2": {"field": "upper"},
                      "y": {"field": "status", "type": "nominal", "scale": {"type": "point", "domain": ["SCC", "Not SCC"], "range": [36, 87.5], "padding": 0}, "axis": null}}},
        {"data": {"name": "stats"}, "transform": [{"filter": "datum.taxon == 'Mammals'"}], "mark": {"type": "bar", "size": 38, "stroke": "#000000", "strokeWidth": 2},
         "encoding": {"x": {"field": "q1", "type": "quantitative", "axis": {"domain": true, "ticks": false, "labels": false, "title": null, "domainColor": "#333333", "domainWidth": 1.5}}, "x2": {"field": "q3"},
                      "y": {"field": "status", "type": "nominal", "axis": null},
                      "fill": {"field": "status", "type": "nominal", "scale": {"domain": ["SCC", "Not SCC"], "range": ["#A8192E", "#2E6A37"]}, "legend": {"title": null, "labelExpr": "datum.value == 'SCC' ? 'Species of Conservation Concern' : 'Not Species of Conservation Concern'"}}}},
        {"data": {"name": "rug_mammals"}, "mark": {"type": "tick", "orient": "vertical", "size": 12, "thickness": 1, "color": "#222222", "opacity": 0.2},
         "encoding": {"x": {"field": "area", "type": "quantitative", "axis": {"domain": true, "ticks": false, "labels": false, "title": null, "domainColor": "#333333", "domainWidth": 1.5}}, "y": {"field": "status", "type": "nominal", "axis": null}}},
        {"data": {"name": "stats"}, "transform": [{"filter": "datum.taxon == 'Mammals'"}], "mark": {"type": "tick", "orient": "vertical", "size": 38, "thickness": 3.5, "color": "#000000"},
         "encoding": {"x": {"field": "median", "type": "quantitative", "axis": {"domain": true, "ticks": false, "labels": false, "title": null, "domainColor": "#333333", "domainWidth": 1.5}}, "y": {"field": "status", "type": "nominal", "axis": null}}}
      ]
    },
    {
      "width": 860, "height": 107.5,
      "title": {"text": "Birds", "offset": -52.5},
      "data": {"name": "density_birds"},
      "encoding": {
        "x": {"field": "area", "type": "quantitative", "scale": {"type": "log", "domain": [0.12072, 18055000], "nice": false}, "axis": null},
        "y": {"field": "density", "type": "quantitative", "scale": {"domain": [0, 1.075], "nice": false}, "axis": null},
        "fill": {"field": "status", "type": "nominal", "scale": {"domain": ["SCC", "Not SCC"], "range": ["#A8192E", "#2E6A37"]}, "legend": {"title": null, "labelExpr": "datum.value == 'SCC' ? 'Species of Conservation Concern' : 'Not Species of Conservation Concern'"}},
        "stroke": {"field": "status", "type": "nominal", "scale": {"domain": ["SCC", "Not SCC"], "range": ["#A9343F", "#5C9341"]}, "legend": null}
      },
      "layer": [
        {"transform": [{"filter": "datum.status == 'Not SCC'"}], "mark": {"type": "area", "interpolate": "monotone", "fillOpacity": 0.55, "strokeWidth": 1.3}, "encoding": {}},
        {"transform": [{"filter": "datum.status == 'SCC'"}], "mark": {"type": "area", "interpolate": "monotone", "fillOpacity": 0.6, "strokeWidth": 1.3}, "encoding": {}}
      ]
    },
    {
      "width": 860, "height": 120.5,
      "layer": [
        {"data": {"name": "stats"}, "transform": [{"filter": "datum.taxon == 'Birds'"}], "mark": {"type": "rule", "color": "#000000", "strokeWidth": 2},
         "encoding": {"x": {"field": "lower", "type": "quantitative", "scale": {"type": "log", "domain": [0.12072, 18055000], "nice": false}, "axis": {"domain": true, "ticks": false, "labels": false, "title": null, "domainColor": "#333333", "domainWidth": 1.5}}, "x2": {"field": "upper"},
                      "y": {"field": "status", "type": "nominal", "scale": {"type": "point", "domain": ["SCC", "Not SCC"], "range": [36, 87.5], "padding": 0}, "axis": null}}},
        {"data": {"name": "stats"}, "transform": [{"filter": "datum.taxon == 'Birds'"}], "mark": {"type": "bar", "size": 38, "stroke": "#000000", "strokeWidth": 2},
         "encoding": {"x": {"field": "q1", "type": "quantitative", "axis": {"domain": true, "ticks": false, "labels": false, "title": null, "domainColor": "#333333", "domainWidth": 1.5}}, "x2": {"field": "q3"},
                      "y": {"field": "status", "type": "nominal", "axis": null},
                      "fill": {"field": "status", "type": "nominal", "scale": {"domain": ["SCC", "Not SCC"], "range": ["#A8192E", "#2E6A37"]}, "legend": {"title": null, "labelExpr": "datum.value == 'SCC' ? 'Species of Conservation Concern' : 'Not Species of Conservation Concern'"}}}},
        {"data": {"name": "rug_birds"}, "mark": {"type": "tick", "orient": "vertical", "size": 12, "thickness": 1, "color": "#222222", "opacity": 0.2},
         "encoding": {"x": {"field": "area", "type": "quantitative", "axis": {"domain": true, "ticks": false, "labels": false, "title": null, "domainColor": "#333333", "domainWidth": 1.5}}, "y": {"field": "status", "type": "nominal", "axis": null}}},
        {"data": {"name": "stats"}, "transform": [{"filter": "datum.taxon == 'Birds'"}], "mark": {"type": "tick", "orient": "vertical", "size": 38, "thickness": 3.5, "color": "#000000"},
         "encoding": {"x": {"field": "median", "type": "quantitative", "axis": {"domain": true, "ticks": false, "labels": false, "title": null, "domainColor": "#333333", "domainWidth": 1.5}}, "y": {"field": "status", "type": "nominal", "axis": null}}}
      ]
    },
    {
      "width": 860, "height": 105.5,
      "title": {"text": "Amphibians", "offset": -50.5},
      "data": {"name": "density_amphibians"},
      "encoding": {
        "x": {"field": "area", "type": "quantitative", "scale": {"type": "log", "domain": [0.12072, 18055000], "nice": false}, "axis": null},
        "y": {"field": "density", "type": "quantitative", "scale": {"domain": [0, 1.055], "nice": false}, "axis": null},
        "fill": {"field": "status", "type": "nominal", "scale": {"domain": ["SCC", "Not SCC"], "range": ["#A8192E", "#2E6A37"]}, "legend": {"title": null, "labelExpr": "datum.value == 'SCC' ? 'Species of Conservation Concern' : 'Not Species of Conservation Concern'"}},
        "stroke": {"field": "status", "type": "nominal", "scale": {"domain": ["SCC", "Not SCC"], "range": ["#A9343F", "#5C9341"]}, "legend": null}
      },
      "layer": [
        {"transform": [{"filter": "datum.status == 'Not SCC'"}], "mark": {"type": "area", "interpolate": "monotone", "fillOpacity": 0.55, "strokeWidth": 1.3}, "encoding": {}},
        {"transform": [{"filter": "datum.status == 'SCC'"}], "mark": {"type": "area", "interpolate": "monotone", "fillOpacity": 0.6, "strokeWidth": 1.3}, "encoding": {}}
      ]
    },
    {
      "width": 860, "height": 115,
      "layer": [
        {"data": {"name": "stats"}, "transform": [{"filter": "datum.taxon == 'Amphibians'"}], "mark": {"type": "rule", "color": "#000000", "strokeWidth": 2},
         "encoding": {"x": {"field": "lower", "type": "quantitative", "scale": {"type": "log", "domain": [0.12072, 18055000], "nice": false}, "axis": {"domain": true, "ticks": false, "labels": false, "title": null, "domainColor": "#333333", "domainWidth": 1.5}}, "x2": {"field": "upper"},
                      "y": {"field": "status", "type": "nominal", "scale": {"type": "point", "domain": ["SCC", "Not SCC"], "range": [36, 87.5], "padding": 0}, "axis": null}}},
        {"data": {"name": "stats"}, "transform": [{"filter": "datum.taxon == 'Amphibians'"}], "mark": {"type": "bar", "size": 38, "stroke": "#000000", "strokeWidth": 2},
         "encoding": {"x": {"field": "q1", "type": "quantitative", "axis": {"domain": true, "ticks": false, "labels": false, "title": null, "domainColor": "#333333", "domainWidth": 1.5}}, "x2": {"field": "q3"},
                      "y": {"field": "status", "type": "nominal", "axis": null},
                      "fill": {"field": "status", "type": "nominal", "scale": {"domain": ["SCC", "Not SCC"], "range": ["#A8192E", "#2E6A37"]}, "legend": {"title": null, "labelExpr": "datum.value == 'SCC' ? 'Species of Conservation Concern' : 'Not Species of Conservation Concern'"}}}},
        {"data": {"name": "rug_amphibians"}, "mark": {"type": "tick", "orient": "vertical", "size": 12, "thickness": 1, "color": "#222222", "opacity": 0.2},
         "encoding": {"x": {"field": "area", "type": "quantitative", "axis": {"domain": true, "ticks": false, "labels": false, "title": null, "domainColor": "#333333", "domainWidth": 1.5}}, "y": {"field": "status", "type": "nominal", "axis": null}}},
        {"data": {"name": "stats"}, "transform": [{"filter": "datum.taxon == 'Amphibians'"}], "mark": {"type": "tick", "orient": "vertical", "size": 38, "thickness": 3.5, "color": "#000000"},
         "encoding": {"x": {"field": "median", "type": "quantitative", "axis": {"domain": true, "ticks": false, "labels": false, "title": null, "domainColor": "#333333", "domainWidth": 1.5}}, "y": {"field": "status", "type": "nominal", "axis": null}}}
      ]
    },
    {
      "width": 860, "height": 111,
      "title": {"text": "Reptiles", "offset": -56},
      "data": {"name": "density_reptiles"},
      "encoding": {
        "x": {"field": "area", "type": "quantitative", "scale": {"type": "log", "domain": [0.12072, 18055000], "nice": false}, "axis": null},
        "y": {"field": "density", "type": "quantitative", "scale": {"domain": [0, 1.11], "nice": false}, "axis": null},
        "fill": {"field": "status", "type": "nominal", "scale": {"domain": ["SCC", "Not SCC"], "range": ["#A8192E", "#2E6A37"]}, "legend": {"title": null, "labelExpr": "datum.value == 'SCC' ? 'Species of Conservation Concern' : 'Not Species of Conservation Concern'"}},
        "stroke": {"field": "status", "type": "nominal", "scale": {"domain": ["SCC", "Not SCC"], "range": ["#A9343F", "#5C9341"]}, "legend": null}
      },
      "layer": [
        {"transform": [{"filter": "datum.status == 'Not SCC'"}], "mark": {"type": "area", "interpolate": "monotone", "fillOpacity": 0.55, "strokeWidth": 1.3}, "encoding": {}},
        {"transform": [{"filter": "datum.status == 'SCC'"}], "mark": {"type": "area", "interpolate": "monotone", "fillOpacity": 0.6, "strokeWidth": 1.3}, "encoding": {}}
      ]
    },
    {
      "width": 860, "height": 113,
      "layer": [
        {"data": {"name": "stats"}, "transform": [{"filter": "datum.taxon == 'Reptiles'"}], "mark": {"type": "rule", "color": "#000000", "strokeWidth": 2},
         "encoding": {"x": {"field": "lower", "type": "quantitative", "scale": {"type": "log", "domain": [0.12072, 18055000], "nice": false},
                            "axis": {"values": [10, 10000, 10000000], "format": ",", "domain": true, "domainColor": "#333333", "domainWidth": 1.5, "ticks": true, "tickColor": "#333333", "tickSize": -5, "tickWidth": 1, "labelFontSize": 18, "labelColor": "#4d4d4d", "labelPadding": 6, "labelFlush": false, "labelOverlap": false, "labelOffset": {"condition": {"test": "datum.value >= 10000000", "value": -20}, "value": 0}, "title": "Habitat Area (km²)", "titleFontSize": 23.5, "titleFontWeight": "normal", "titleColor": "#808080", "titleX": 509, "titlePadding": 8}},
                      "x2": {"field": "upper"},
                      "y": {"field": "status", "type": "nominal", "scale": {"type": "point", "domain": ["SCC", "Not SCC"], "range": [36, 87.5], "padding": 0}, "axis": null}}},
        {"data": {"name": "stats"}, "transform": [{"filter": "datum.taxon == 'Reptiles'"}], "mark": {"type": "bar", "size": 38, "stroke": "#000000", "strokeWidth": 2},
         "encoding": {"x": {"field": "q1", "type": "quantitative", "axis": {"values": [10, 10000, 10000000], "format": ",", "domain": true, "domainColor": "#333333", "domainWidth": 1.5, "ticks": true, "tickColor": "#333333", "tickSize": -5, "tickWidth": 1, "labelFontSize": 18, "labelColor": "#4d4d4d", "labelPadding": 6, "labelFlush": false, "labelOverlap": false, "labelOffset": {"condition": {"test": "datum.value >= 10000000", "value": -20}, "value": 0}, "title": "Habitat Area (km²)", "titleFontSize": 23.5, "titleFontWeight": "normal", "titleColor": "#808080", "titleX": 509, "titlePadding": 8}}, "x2": {"field": "q3"},
                      "y": {"field": "status", "type": "nominal", "axis": null},
                      "fill": {"field": "status", "type": "nominal", "scale": {"domain": ["SCC", "Not SCC"], "range": ["#A8192E", "#2E6A37"]}, "legend": {"title": null, "labelExpr": "datum.value == 'SCC' ? 'Species of Conservation Concern' : 'Not Species of Conservation Concern'"}}}},
        {"data": {"name": "rug_reptiles"}, "mark": {"type": "tick", "orient": "vertical", "size": 12, "thickness": 1, "color": "#222222", "opacity": 0.2},
         "encoding": {"x": {"field": "area", "type": "quantitative", "axis": {"values": [10, 10000, 10000000], "format": ",", "domain": true, "domainColor": "#333333", "domainWidth": 1.5, "ticks": true, "tickColor": "#333333", "tickSize": -5, "tickWidth": 1, "labelFontSize": 18, "labelColor": "#4d4d4d", "labelPadding": 6, "labelFlush": false, "labelOverlap": false, "labelOffset": {"condition": {"test": "datum.value >= 10000000", "value": -20}, "value": 0}, "title": "Habitat Area (km²)", "titleFontSize": 23.5, "titleFontWeight": "normal", "titleColor": "#808080", "titleX": 509, "titlePadding": 8}}, "y": {"field": "status", "type": "nominal", "axis": null}}},
        {"data": {"name": "stats"}, "transform": [{"filter": "datum.taxon == 'Reptiles'"}], "mark": {"type": "tick", "orient": "vertical", "size": 38, "thickness": 3.5, "color": "#000000"},
         "encoding": {"x": {"field": "median", "type": "quantitative", "axis": {"values": [10, 10000, 10000000], "format": ",", "domain": true, "domainColor": "#333333", "domainWidth": 1.5, "ticks": true, "tickColor": "#333333", "tickSize": -5, "tickWidth": 1, "labelFontSize": 18, "labelColor": "#4d4d4d", "labelPadding": 6, "labelFlush": false, "labelOverlap": false, "labelOffset": {"condition": {"test": "datum.value >= 10000000", "value": -20}, "value": 0}, "title": "Habitat Area (km²)", "titleFontSize": 23.5, "titleFontWeight": "normal", "titleColor": "#808080", "titleX": 509, "titlePadding": 8}}, "y": {"field": "status", "type": "nominal", "axis": null}}}
      ]
    }
  ]
}
